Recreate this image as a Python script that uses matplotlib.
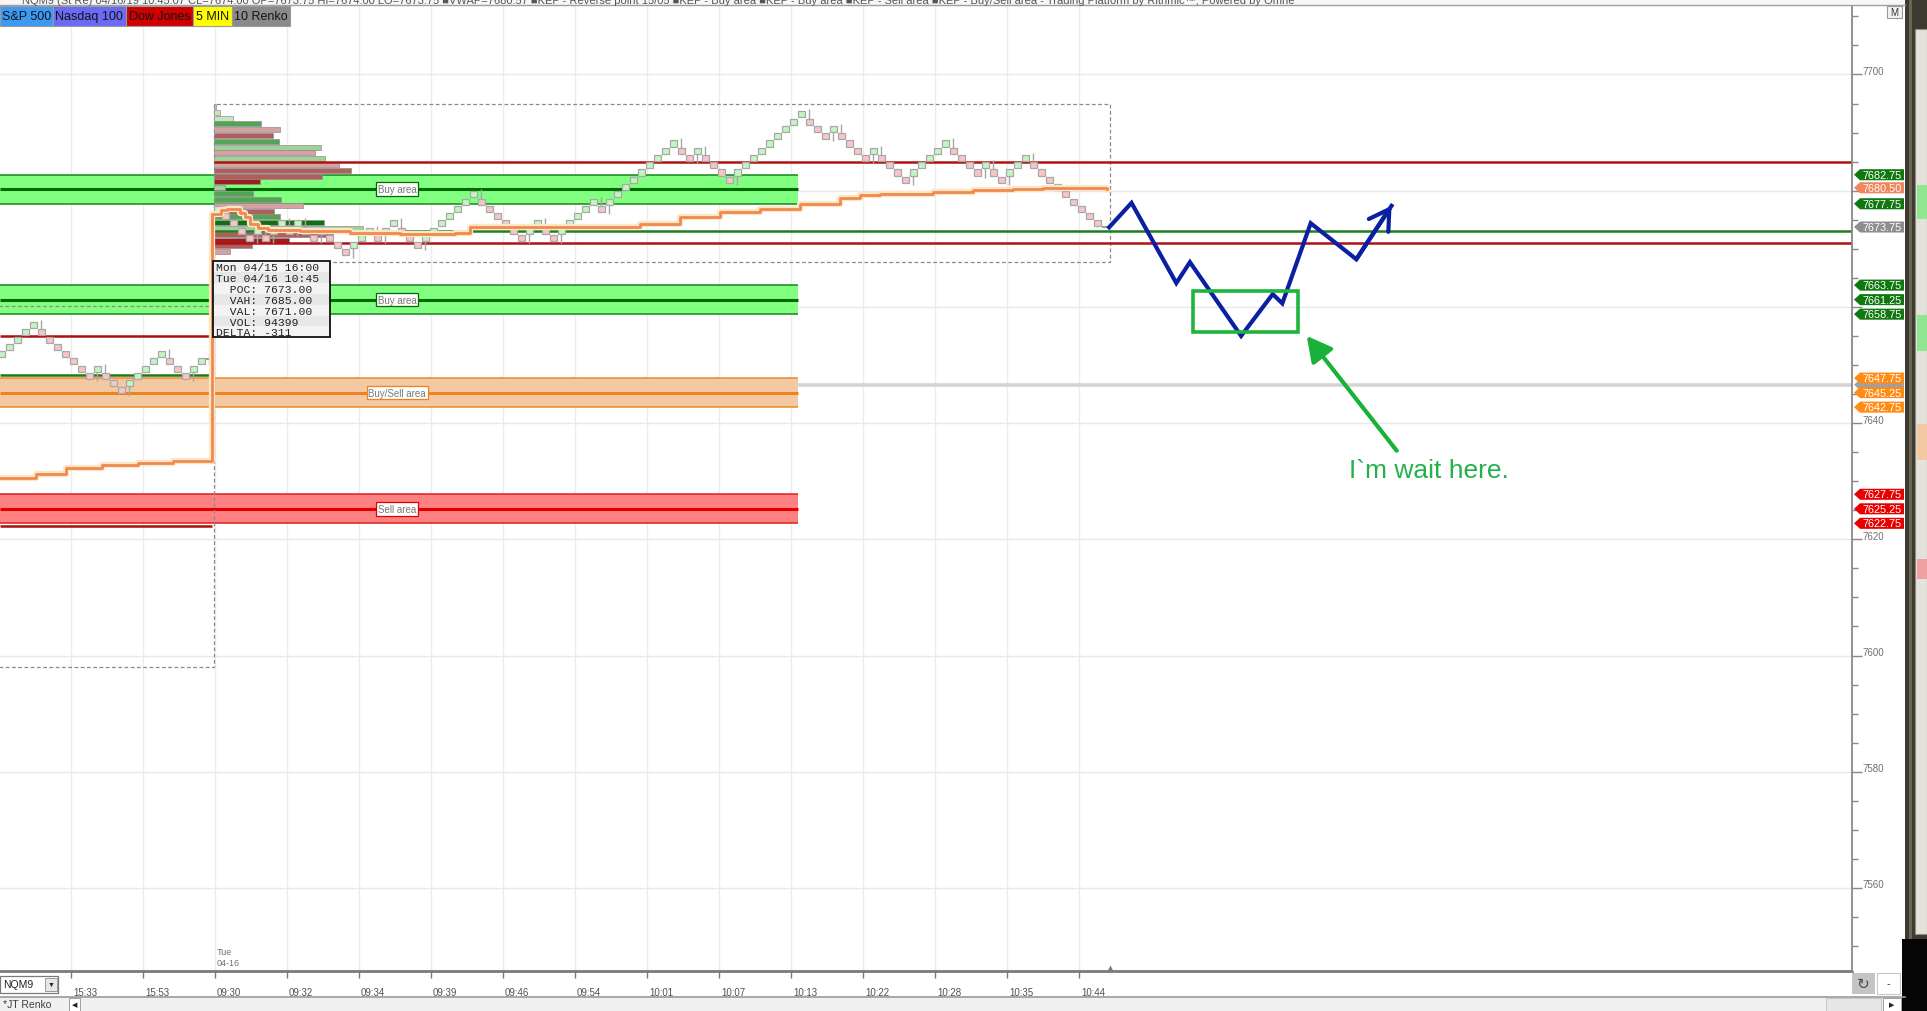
import numpy as np
import matplotlib
matplotlib.use('Agg')
import matplotlib.pyplot as plt
from matplotlib.patches import Rectangle, Polygon
from matplotlib.ticker import MultipleLocator

plt.rcParams['font.family'] = ['Liberation Sans', 'DejaVu Sans']

W, H = 1927, 1012

# ---------------- data ----------------
brick = 1.25   # 10 Renko on NQ (ticks of 0.25, drawn every 1.25 pts)

# previous session bricks (low of each brick)
prev_low = [7651.25, 7652.50, 7653.75, 7655.00, 7656.25, 7655.00, 7653.75, 7652.50,
            7651.25, 7650.00, 7648.75, 7647.50, 7648.75, 7647.50, 7646.25, 7645.00,
            7646.25, 7647.50, 7648.75, 7650.00, 7651.25, 7650.00, 7648.75, 7647.50,
            7648.75, 7650.00]
prev_last = 7651.00

# today's bricks from 09:30
today_low = [7676.25, 7675.00, 7673.75, 7672.50, 7671.25, 7672.50, 7671.25, 7672.50,
             7673.75, 7672.50, 7673.75, 7672.50, 7671.25, 7672.50, 7671.25, 7670.00,
             7668.75, 7670.00, 7671.25, 7672.50, 7671.25, 7672.50, 7673.75, 7672.50,
             7671.25, 7670.00, 7671.25, 7672.50, 7673.75, 7675.00, 7676.25, 7677.50,
             7678.75, 7677.50, 7676.25, 7675.00, 7673.75, 7672.50, 7671.25, 7672.50,
             7673.75, 7672.50, 7671.25, 7672.50, 7673.75, 7675.00, 7676.25, 7677.50,
             7676.25, 7677.50, 7678.75, 7680.00,
             7681.25, 7682.50, 7683.75, 7685.00, 7686.25, 7687.50, 7686.25, 7685.00,
             7686.25, 7685.00, 7683.75, 7682.50, 7681.25, 7682.50, 7683.75, 7685.00,
             7686.25, 7687.50, 7688.75, 7690.00, 7691.25, 7692.50, 7691.25, 7690.00,
             7688.75, 7690.00, 7688.75, 7687.50, 7686.25, 7685.00, 7686.25, 7685.00,
             7683.75, 7682.50, 7681.25, 7682.50, 7683.75, 7685.00, 7686.25, 7687.50,
             7686.25, 7685.00, 7683.75, 7682.50, 7683.75, 7682.50, 7681.25, 7682.50,
             7683.75, 7685.00, 7683.75, 7682.50, 7681.25, 7680.00, 7678.75, 7677.50,
             7676.25, 7675.00, 7673.75]
today_last = 7673.75

# VWAP (bar index, price)
vwap_prev_x = [-26.84, -22.4, -18.6, -14.1, -9.6, -5.2, -0.7]
vwap_prev = [7630.5, 7631.2, 7632.2, 7632.8, 7633.2, 7633.4, 7633.5]
vwap_x = [-0.35, 0.2, 0.8, 1.5, 3.2, 3.8, 4.4, 5.4, 6.7, 10.7, 16.9, 23.2, 28.2, 30.0,
          31.9, 35.7, 43.2, 48.2, 53.2, 58.2, 63.2, 68.2, 73.2, 78.2, 80.7, 83.2,
          89.8, 94.8, 99.8, 103.5, 111.5]
vwap = [7676.0, 7676.0, 7676.7, 7676.8, 7676.2, 7675.5, 7674.3, 7673.6, 7673.2, 7673.0,
        7672.8, 7672.6, 7672.5, 7672.8, 7673.7, 7673.8, 7673.8, 7673.8, 7674.2, 7675.5,
        7676.35, 7676.9, 7677.7, 7678.7, 7679.2, 7679.4, 7679.8, 7680.1, 7680.3,
        7680.45, 7680.3]

# session profile
prev_vah, prev_poc, prev_val = 7655.00, 7648.25, 7622.25
prev_box_low, prev_box_high = 7598.1, 7660.1
poc, vah, val = 7673.00, 7685.00, 7671.00
vol_total, delta = 94399, -311
profile_price = [7694.5, 7693.5, 7692.5, 7691.5, 7690.5, 7689.5, 7688.5, 7687.5, 7686.5,
                 7685.5, 7684.5, 7683.5, 7682.5, 7681.5, 7680.5, 7679.5, 7678.5, 7677.5,
                 7676.5, 7675.5, 7674.5, 7673.5, 7672.5, 7671.5, 7670.5, 7669.5]
profile_vol = [77, 310, 960, 2425, 3406, 3024, 3333, 5501, 5191, 5707, 6429, 7049, 5552,
               2337, 568, 1992, 3437, 4572, 3060, 3385, 5655, 7668, 6120, 3834, 1940, 826]
profile_shade = ['lg', 'pg', 'pg', 'g', 'p', 'r', 'g', 'lg', 'p', 'lg', 'p', 'r', 'r',
                 'dr', 'lg', 'g', 'g', 'p', 'r', 'g', 'dg', 'lg', 'r', 'dr', 'r', 'p']

# KEP zones: (name, low, mid, high)
zone_name = ['Buy area', 'Buy area', 'Buy/Sell area', 'Sell area']
zone_low = [7677.75, 7658.75, 7642.75, 7622.75]
zone_mid = [7680.25, 7661.25, 7645.25, 7625.25]
zone_high = [7682.75, 7663.75, 7647.75, 7627.75]
zone_end = 72.9
reverse_point = 7646.60

time_labels = ['15:33', '15:53', '09:30', '09:32', '09:34', '09:39', '09:46', '09:54',
               '10:01', '10:07', '10:13', '10:22', '10:28', '10:35', '10:44']
price_labels = [7560, 7580, 7600, 7620, 7640, 7700]   # 7660 / 7680 sit under the tags

# hand drawn scenario
plan_x = [111.8, 114.6, 120.2, 121.9, 128.3, 132.25, 133.45, 137.0, 142.7, 147.1]
plan_y = [7673.7, 7677.9, 7664.1, 7667.7, 7655.0, 7662.2, 7660.6, 7674.4, 7668.2, 7677.4]
wait_box = (122.3, 7655.6, 135.4, 7662.7)
note_tail = (147.75, 7635.25)
note_head = (136.5, 7655.0)

tag_price = [7646.60, 7682.75, 7680.50, 7677.75, 7673.75, 7663.75, 7661.25, 7658.75,
             7647.75, 7645.25, 7642.75, 7627.75, 7625.25, 7622.75]
tag_kind = ['gray', 'buy', 'vwap', 'buy', 'last', 'buy', 'buy', 'buy',
            'bs', 'bs', 'bs', 'sell', 'sell', 'sell']

# ---------------- styles ----------------
shade_col = {'pg': '#c6e6c1', 'lg': '#9fd199', 'g': '#52a552', 'dg': '#107010',
             'p': '#d5a2a2', 'r': '#b25c5c', 'dr': '#9e1d1d'}
zone_fill = ['#80ff80', '#80ff80', '#f2c9a3', '#ff8080']
zone_edge = ['#16861a', '#16861a', '#f08a28', '#dc2020']
zone_line = ['#006b00', '#006b00', '#f0821c', '#e00000']
tag_col = {'gray': '#a0a0a0', 'buy': '#0f780f', 'vwap': '#f0845a', 'last': '#8e8e8e',
           'bs': '#ff8a14', 'sell': '#e60000'}

x_left, x_right = -26.84, 204.66
y_low, y_high = 7545.7, 7711.96


def fx(px):
    return px / W


def fy(py):
    return 1 - py / H


fig = plt.figure(figsize=(W / 100, H / 100), dpi=100)
fig.patch.set_facecolor('white')

ax = fig.add_axes([0, fy(972), fx(1852), (972 - 6) / H])
ax.set_xlim(x_left, x_right)
ax.set_ylim(y_low, y_high)
ax.set_axis_off()

ticks = -18 + 9 * np.arange(len(time_labels))
for t in ticks:
    ax.axvline(t, color='#ececec', lw=1, zorder=0)
for p in range(7560, 7701, 20):
    ax.axhline(p, color='#e9e9e9', lw=1, zorder=0)

# zones
for i in range(len(zone_name)):
    ax.fill_between([x_left, zone_end], zone_low[i], zone_high[i], color=zone_fill[i],
                    lw=0, zorder=1)
    ax.hlines([zone_low[i], zone_high[i]], x_left, zone_end, colors=zone_edge[i], lw=1.1, zorder=1.2)
    ax.hlines(zone_mid[i], x_left, zone_end, colors=zone_line[i], lw=2.2, zorder=1.3)
    ax.text(22.8, zone_mid[i], zone_name[i], fontsize=7, color='#777777', ha='center',
            va='center', zorder=5,
            bbox=dict(boxstyle='square,pad=0.18', fc='white', ec=zone_line[i], lw=0.9))
ax.hlines(reverse_point, zone_end, x_right, colors='#d4d4d4', lw=2.6, zorder=1)

# profile boxes
ax.add_patch(Rectangle((x_left - 2, prev_box_low), -0.1 - (x_left - 2),
                       prev_box_high - prev_box_low, fill=False, ec='#8a8a8a',
                       ls=(0, (3, 2)), lw=0.9, zorder=1.5))
today_box_low, today_box_high = 7667.8, 7694.9
ax.add_patch(Rectangle((-0.1, today_box_low), 112.0, today_box_high - today_box_low,
                       fill=False, ec='#8a8a8a', ls=(0, (3, 2)), lw=0.9, zorder=1.5))

# volume profile
prof_scale = 18.6 / max(profile_vol)
ax.barh(profile_price, np.array(profile_vol) * prof_scale, left=-0.05, height=0.86,
        color=[shade_col[s] for s in profile_shade], edgecolor='#8f8f8f', lw=0.5, zorder=2)

# session levels
ax.hlines([prev_vah, prev_val], x_left, -0.3, colors='#a81010', lw=1.8, zorder=2.5)
ax.hlines(prev_poc, x_left, -0.3, colors='#1a7a1a', lw=1.8, zorder=2.5)
ax.hlines([vah, val], -0.1, x_right, colors='#b01212', lw=1.8, zorder=2.5)
ax.hlines(poc, -0.1, x_right, colors='#1f7f1f', lw=1.8, zorder=2.5)


def draw_bricks(x, lows):
    lows = np.asarray(lows)
    up = np.diff(lows, prepend=lows[0] - brick) > 0
    cols = np.where(up, '#c2f5c2', '#f7c5c5')
    ax.bar(x, brick * 0.84, bottom=lows + brick * 0.08, width=0.8, color=list(cols),
           edgecolor='#a8a8a8', lw=0.9, zorder=3)
    before = np.r_[up[0], up[:-1]]
    rev = up != before
    lo = np.where(up[rev], lows[rev] - 1.5, lows[rev] + brick * 0.9)
    hi = np.where(up[rev], lows[rev] + brick * 0.1, lows[rev] + brick + 1.5)
    ax.vlines(x[rev], lo, hi, colors='#a6a6a6', lw=1, zorder=2.9)


x_prev = np.arange(-len(prev_low) - 1, -1) + 0.33
x_today = np.arange(len(today_low)) + 0.33
draw_bricks(x_prev, prev_low)
draw_bricks(x_today, today_low)
ax.hlines([prev_last, today_last], [-0.67 - 0.4, x_today[-1] + 0.6],
          [-0.67 + 0.4, x_today[-1] + 1.4], colors='#9a9a9a', lw=1.4, zorder=3)
ax.vlines(-0.67, prev_last - 0.9, prev_last + 0.9, colors='#9a9a9a', lw=1, zorder=3)

# VWAP
vx = np.r_[vwap_prev_x, vwap_x]
vy = np.r_[vwap_prev, vwap]
ax.plot(vx, vy, drawstyle='steps-post', color='#fde6c6', lw=4.5, zorder=3.8)
ax.plot(vx, vy, drawstyle='steps-post', color='#ee8a50', lw=2, zorder=4)

# scenario drawing
blue = '#0b1fa3'
ax.plot(plan_x, plan_y, color=blue, lw=3, solid_joinstyle='miter', zorder=6)
ax.annotate('', xy=(plan_x[-1], plan_y[-1]), xytext=(plan_x[-2], plan_y[-2]),
            arrowprops=dict(arrowstyle='->,head_length=0.7,head_width=0.42', color=blue,
                            lw=3, mutation_scale=20, shrinkA=0, shrinkB=0), zorder=6)
ax.add_patch(Rectangle((wait_box[0], wait_box[1]), wait_box[2] - wait_box[0],
                       wait_box[3] - wait_box[1], fill=False, ec='#1db53c', lw=2.6, zorder=6))
ax.annotate('', xy=note_head, xytext=note_tail,
            arrowprops=dict(arrowstyle='-|>,head_length=0.75,head_width=0.4', color='#18b23a',
                            lw=3, mutation_scale=20, shrinkA=0, shrinkB=0), zorder=6)
ax.text(141.8, 7631.9, 'I`m wait here.', color='#22b14c', fontsize=19, ha='left',
        va='center', zorder=6)

# ---------------- time axis ----------------
ax_t = fig.add_axes([0, fy(998), fx(1852), 26 / H])
ax_t.set_xlim(x_left, x_right)
ax_t.set_ylim(0, 1)
for s in ['left', 'right', 'bottom']:
    ax_t.spines[s].set_visible(False)
ax_t.spines['top'].set_color('#7a7a7a')
ax_t.spines['top'].set_linewidth(2)
ax_t.set_xticks(ticks)
ax_t.set_yticks([])
ax_t.tick_params(axis='x', top=True, bottom=False, direction='in', length=5, width=1,
                 color='#7a7a7a', labelbottom=False, labeltop=False)
for t, lab in zip(ticks, time_labels):
    ax_t.text(t + 0.3, 0.19, lab, fontsize=7, color='#505050', ha='left', va='center')

# ---------------- price axis ----------------
ax_r = fig.add_axes([fx(1852), fy(972), fx(53), (972 - 6) / H])
ax_r.set_xlim(0, 53)
ax_r.set_ylim(y_low, y_high)
for s in ['right', 'top', 'bottom']:
    ax_r.spines[s].set_visible(False)
ax_r.spines['left'].set_color('#888888')
ax_r.spines['left'].set_linewidth(1.3)
ax_r.set_xticks([])
ax_r.yaxis.set_major_locator(MultipleLocator(20))
ax_r.yaxis.set_minor_locator(MultipleLocator(5))
ax_r.tick_params(axis='y', which='major', direction='in', length=7, width=1,
                 color='#888888', labelleft=False)
ax_r.tick_params(axis='y', which='minor', direction='in', length=4, width=1, color='#888888')
for p in price_labels:
    ax_r.text(10, p + 0.6, str(p), fontsize=7, color='#707070', ha='left', va='center')
hh = 0.95
for i, (p, k) in enumerate(zip(tag_price, tag_kind)):
    z = 5 + 0.1 * i
    ax_r.add_patch(Polygon([(2, p), (8, p + hh), (52, p + hh), (52, p - hh), (8, p - hh)],
                           closed=True, fc=tag_col[k], ec='none', zorder=z))
    if k != 'gray':   # the reverse point tag is covered by the Buy/Sell tags
        ax_r.text(30, p, f'{p:.2f}', fontsize=7.8, color='white', ha='center',
                  va='center', zorder=z + 0.05)

# ---------------- window chrome ----------------
ui = fig.add_axes([0, 0, 1, 1], zorder=10)
ui.set_xlim(0, W)
ui.set_ylim(H, 0)
ui.set_axis_off()
ui.patch.set_alpha(0)

ui.add_patch(Rectangle((0, 0), 1905, 6, fc='#f7f7f7', ec='none'))
ui.plot([0, 1905], [6, 6], color='#a0a0a0', lw=1)
ui.text(22, 0.5, 'NQM9 (St Re) 04/16/19 10:45:07 CL=7674.00 OP=7673.75 HI=7674.00 '
        'LO=7673.75 \u25a0VWAP=7680.57 \u25a0KEP - Reverse point 15/05 \u25a0KEP - Buy area '
        '\u25a0KEP - Buy area \u25a0KEP - Sell area \u25a0KEP - Buy/Sell area - Trading '
        'Platform by Rithmic\u2122, Powered by Omne',
        fontsize=8, color='#555555', ha='left', va='center')

btn_text = ['S&P 500', 'Nasdaq 100', 'Dow Jones', '5 MIN', '10 Renko']
btn_x = [0, 52.7, 125.9, 192.9, 232, 290]
btn_col = ['#3d9af4', '#6a6af4', '#d00000', '#ffff00', '#8a8a8a']
for i, lab in enumerate(btn_text):
    ui.add_patch(Rectangle((btn_x[i], 7), btn_x[i + 1] - btn_x[i], 20, fc=btn_col[i],
                           ec='#9a9a9a', lw=0.8))
    ui.text((btn_x[i] + btn_x[i + 1]) / 2, 17, lab, fontsize=9, color='#141414',
            ha='center', va='center')

ui.add_patch(Rectangle((1887, 7), 15, 12, fc='#f2f2f2', ec='#9a9a9a', lw=0.8))
ui.text(1894.5, 13, 'M', fontsize=7, color='#333333', ha='center', va='center')

# tooltip of the profile
tip_lines = ['Mon 04/15 16:00', 'Tue 04/16 10:45', f'  POC: {poc:.2f}', f'  VAH: {vah:.2f}',
             f'  VAL: {val:.2f}', f'  VOL: {vol_total}', f'DELTA: {delta}']
tx0, ty0, tw, row = 213.4, 262.3, 116.6, 10.86
for i, line in enumerate(tip_lines):
    ui.add_patch(Rectangle((tx0, ty0 + i * row), tw, row,
                           fc='#f3f3f3' if i % 2 == 0 else '#e7e7e7', ec='none'))
    ui.text(tx0 + 2.5, ty0 + (i + 0.55) * row, line, family='Liberation Mono', fontsize=8.2,
            color='#222222', ha='left', va='center')
ui.add_patch(Rectangle((tx0, ty0), tw, row * len(tip_lines), fill=False, ec='#111111', lw=1.3))

ui.text(217, 953, 'Tue', fontsize=6.5, color='#707070', ha='left', va='center')
ui.text(217, 964, '04-16', fontsize=6.5, color='#707070', ha='left', va='center')
ui.plot(1110, 968.5, marker='^', ms=4, color='#7a7a7a', mec='none')

# time axis chrome
ui.add_patch(Rectangle((0, 977), 58, 17, fc='white', ec='#7a7a7a', lw=0.9))
ui.text(3, 985.5, 'NQM9', fontsize=7.5, color='#222222', ha='left', va='center')
ui.add_patch(Rectangle((45, 979), 12, 13, fc='#e6e6e6', ec='#9a9a9a', lw=0.7))
ui.text(51, 985.5, '\u25bc', fontsize=5, color='#222222', ha='center', va='center')
ui.plot([0, 1905], [998, 998], color='#9a9a9a', lw=1.2)
ui.add_patch(Rectangle((1852, 974), 23, 21, fc='#c4c4c4', ec='none'))
ui.text(1863.5, 984.5, '\u21bb', fontsize=11, color='#4a4a4a', ha='center', va='center')
ui.add_patch(Rectangle((1877, 974), 23, 21, fc='white', ec='#c8c8c8', lw=0.8))
ui.text(1888.5, 984, '-', fontsize=8, color='#333333', ha='center', va='center')

# bottom strip
ui.add_patch(Rectangle((0, 998), 1905, 14, fc='#f0f0f0', ec='none'))
ui.text(3, 1005.5, '*JT Renko', fontsize=7.5, color='#404040', ha='left', va='center')
ui.add_patch(Rectangle((69, 999), 11, 13, fc='white', ec='#a0a0a0', lw=0.7))
ui.text(74.5, 1005.5, '\u25c0', fontsize=5, color='#222222', ha='center', va='center')
ui.add_patch(Rectangle((1826, 999), 55, 13, fc='#e6e6e6', ec='#c8c8c8', lw=0.7))
ui.add_patch(Rectangle((1883, 999), 18, 13, fc='white', ec='#a0a0a0', lw=0.7))
ui.text(1892, 1005.5, '\u25b6', fontsize=5, color='#222222', ha='center', va='center')

# neighbouring window edge
ui.add_patch(Rectangle((1905, 0), 22, H, fc='#3c3a31', ec='none'))
ui.add_patch(Rectangle((1909, 0), 3, H, fc='#6b6552', ec='none'))
ui.add_patch(Rectangle((1915, 30), 12, 905, fc='#e3e3db', ec='#8a8a80', lw=0.8))
ui.add_patch(Rectangle((1917, 186), 10, 34, fc='#90e690', ec='none'))
ui.add_patch(Rectangle((1917, 316), 10, 36, fc='#90e690', ec='none'))
ui.add_patch(Rectangle((1917, 425), 10, 36, fc='#f2c9a2', ec='none'))
ui.add_patch(Rectangle((1917, 560), 10, 20, fc='#f0a0a0', ec='none'))
ui.add_patch(Rectangle((1902, 940), 25, 72, fc='#050505', ec='none'))

fig.savefig('out.png', dpi=100)
